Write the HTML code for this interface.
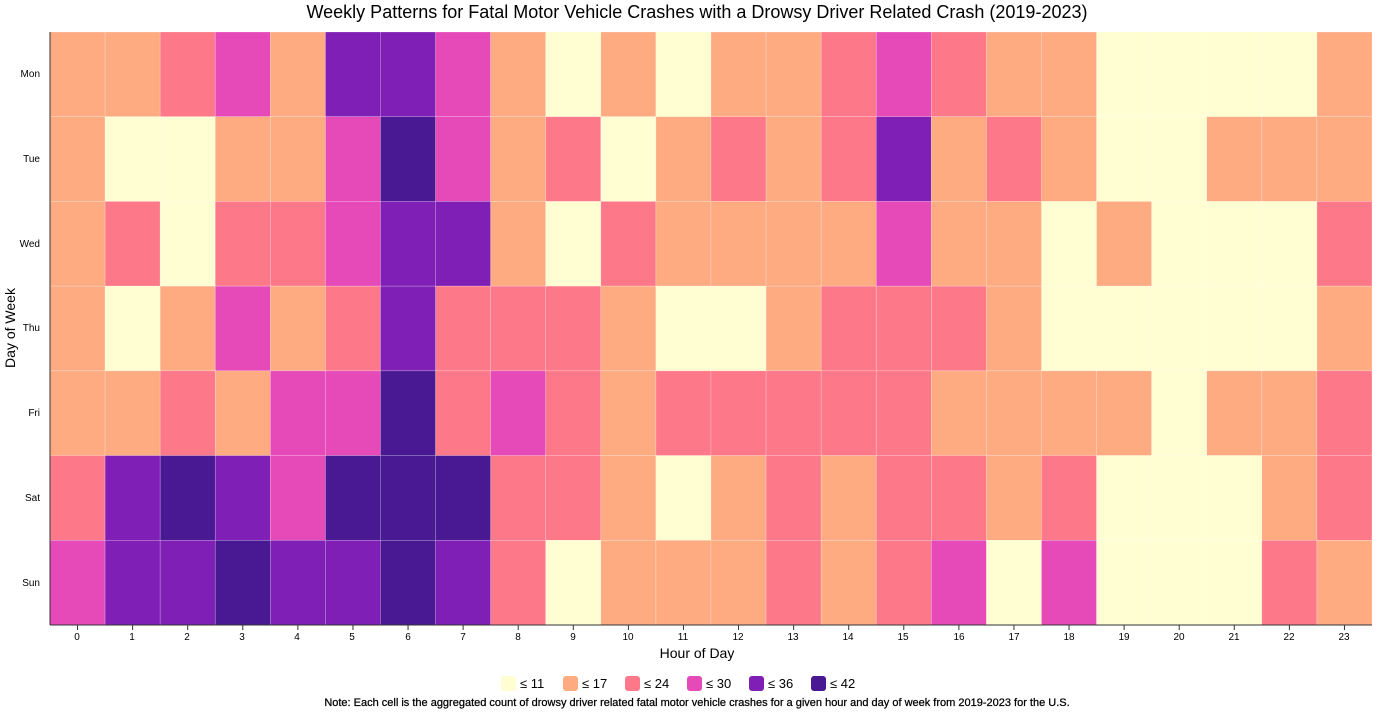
<!DOCTYPE html>
<html><head><meta charset="utf-8"><style>
body{margin:0;background:#fff;font-family:"Liberation Sans",Arial,sans-serif}
svg text{font-family:"Liberation Sans",Arial,sans-serif;fill:#000}
</style></head><body>
<svg id="s" width="1394" height="721" xmlns="http://www.w3.org/2000/svg">
<text x="697" y="18" text-anchor="middle" font-size="18">Weekly Patterns for Fatal Motor Vehicle Crashes with a Drowsy Driver Related Crash (2019-2023)</text>
<g id="cells"></g>
<line x1="50" y1="32" x2="50" y2="625" stroke="#333"/>
<line x1="50" y1="625" x2="1372" y2="625" stroke="#333"/>
<g font-size="10" text-anchor="end">
<text x="40" y="77">Mon</text><text x="40" y="162">Tue</text><text x="40" y="247">Wed</text><text x="40" y="331">Thu</text><text x="40" y="416">Fri</text><text x="40" y="501">Sat</text><text x="40" y="586">Sun</text>
</g>
<g id="xt" font-size="10" text-anchor="middle"></g>
<text x="697" y="658" text-anchor="middle" font-size="14">Hour of Day</text>
<text transform="translate(15,328) rotate(-90)" text-anchor="middle" font-size="14">Day of Week</text>
<g font-size="13">
<rect x="501" y="676" width="15" height="15" rx="3" fill="#fffdd2"/><text x="520" y="688">≤ 11</text>
<rect x="563" y="676" width="15" height="15" rx="3" fill="#feab82"/><text x="582" y="688">≤ 17</text>
<rect x="625" y="676" width="15" height="15" rx="3" fill="#fd7889"/><text x="644" y="688">≤ 24</text>
<rect x="687" y="676" width="15" height="15" rx="3" fill="#e54ab8"/><text x="706" y="688">≤ 30</text>
<rect x="749" y="676" width="15" height="15" rx="3" fill="#7f1fb5"/><text x="768" y="688">≤ 36</text>
<rect x="811" y="676" width="15" height="15" rx="3" fill="#491893"/><text x="830" y="688">≤ 42</text>
</g>
<text x="697" y="706" text-anchor="middle" font-size="11" stroke="#000" stroke-width="0.25">Note: Each cell is the aggregated count of drowsy driver related fatal motor vehicle crashes for a given hour and day of week from 2019-2023 for the U.S.</text>
<g font-size="10" text-anchor="middle">
<text x="77" y="640">0</text><text x="132" y="640">1</text><text x="187" y="640">2</text><text x="242" y="640">3</text><text x="297" y="640">4</text><text x="352" y="640">5</text><text x="408" y="640">6</text><text x="463" y="640">7</text><text x="518" y="640">8</text><text x="573" y="640">9</text><text x="628" y="640">10</text><text x="683" y="640">11</text><text x="738" y="640">12</text><text x="793" y="640">13</text><text x="848" y="640">14</text><text x="903" y="640">15</text><text x="959" y="640">16</text><text x="1014" y="640">17</text><text x="1069" y="640">18</text><text x="1124" y="640">19</text><text x="1179" y="640">20</text><text x="1234" y="640">21</text><text x="1289" y="640">22</text><text x="1344" y="640">23</text>
</g>
</svg>
<script>
var C={Y:"#fffdd2",O:"#feab82",P:"#fd7889",M:"#e54ab8",V:"#7f1fb5",D:"#491893"};
var rows=["OOPMOVVMOYOYOOPMPOOYYYYO","OYYOOMDMOPYOPOPVOPOYYOOO","OPYPPMVVOYPOOOOMOOYOYYYP","OYOMOPVPPPOYYOPPPOYYYYYO","OOPOMMDPMPOPPPPPOOOOYOOP","PVDVMDDDPPOYOPOPPOPYYYOP","MVVDVVDVPYOOOPOPMYMYYYPO"];
var g=document.getElementById("cells"),w=1322/24,h=593/7,s="";
for(var r=0;r<7;r++)for(var c=0;c<24;c++){s+='<rect x="'+(50+c*w)+'" y="'+(32+r*h)+'" width="'+w+'" height="'+h+'" fill="'+C[rows[r][c]]+'" stroke="rgba(255,255,255,0.35)" stroke-width="0.6"/>';}
g.innerHTML=s;
var xt="";for(var c=0;c<24;c++){var x=50+(c+0.5)*w;xt+='<line x1="'+x+'" y1="625" x2="'+x+'" y2="630" stroke="#333"/>';}
document.getElementById("xt").innerHTML=xt;
</script>
</body></html>
